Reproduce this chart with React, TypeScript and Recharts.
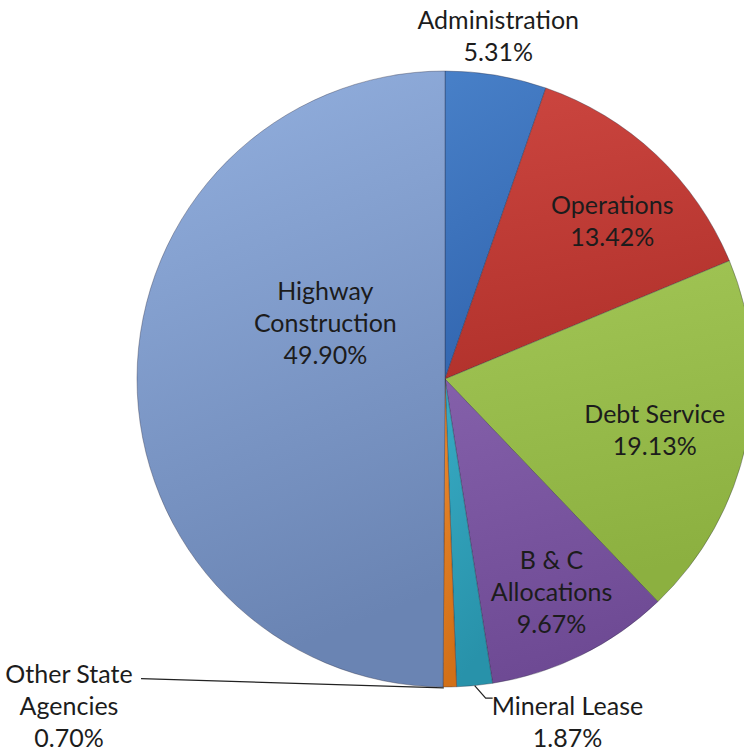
import { PieChart, Pie, Cell } from 'recharts';

const categories = [
  'Administration',
  'Operations',
  'Debt Service',
  'B & C Allocations',
  'Mineral Lease',
  'Other State Agencies',
  'Highway Construction',
];
const shares = [5.31, 13.42, 19.13, 9.67, 1.87, 0.7, 49.9];
const labelLines = [
  ['Administration'],
  ['Operations'],
  ['Debt Service'],
  ['B & C', 'Allocations'],
  ['Mineral Lease'],
  ['Other State', 'Agencies'],
  ['Highway', 'Construction'],
];

const data = categories.map((name, i) => ({ name, value: shares[i], lines: labelLines[i] }));

// [light, dark] per slice
const fills: [string, string][] = [
  ['#4880c8', '#3266b0'],
  ['#cc4640', '#b2322c'],
  ['#a2c656', '#8cb040'],
  ['#8460aa', '#6e4a94'],
  ['#38abc4', '#2892aa'],
  ['#ec8a2e', '#d27018'],
  ['#93b0df', '#6a84b3'],
];

// label placement: angle clockwise from 12 o'clock, distance in radii
const placement: Record<string, { angle: number; dist: number }> = {
  'Administration': { angle: 8.8, dist: 1.13 },
  'Operations': { angle: 46.4, dist: 0.75 },
  'Debt Service': { angle: 103.4, dist: 0.7 },
  'B & C Allocations': { angle: 153.3, dist: 0.77 },
  'Mineral Lease': { angle: 160.3, dist: 1.18 },
  'Other State Agencies': { angle: 229.1, dist: 1.615 },
  'Highway Construction': { angle: 295.4, dist: 0.43 },
};

const FONT = 25;
const LINE_H = 32;
const CX = 445;
const CY = 379;
const R = 308;

function polar(angle: number, dist: number) {
  const a = (angle * Math.PI) / 180;
  return { x: CX + Math.sin(a) * dist, y: CY - Math.cos(a) * dist };
}

function renderLabel(props: any) {
  const { payload, midAngle } = props;
  const name = payload.name as string;
  const p = placement[name];
  const pos = polar(p.angle, p.dist * R);
  const lines: string[] = [...payload.lines, `${payload.value.toFixed(2)}%`];
  const top = pos.y - ((lines.length - 1) * LINE_H) / 2;
  // recharts midAngle: counter-clockwise from 3 o'clock
  const clock = 90 - midAngle;
  const edge = polar(clock, R);
  let leader = null;
  if (name === 'Other State Agencies') {
    leader = (
      <polyline
        points={`${pos.x + 72},${top + 6} ${edge.x - 6},${edge.y + 1}`}
        fill="none"
        stroke="#222"
        strokeWidth={1.2}
      />
    );
  } else if (name === 'Mineral Lease') {
    leader = (
      <polyline
        points={`${edge.x},${edge.y} ${edge.x + 11},${top - 7} ${edge.x + 18},${top - 7}`}
        fill="none"
        stroke="#222"
        strokeWidth={1.2}
      />
    );
  }
  return (
    <g key={name}>
      {leader}
      <text
        x={pos.x}
        y={top}
        textAnchor="middle"
        dominantBaseline="central"
        fontFamily="Lato, 'Open Sans', sans-serif"
        fontSize={FONT}
        fill="#1c1c1c"
      >
        {lines.map((l, i) => (
          <tspan key={i} x={pos.x} dy={i === 0 ? 0 : LINE_H}>
            {l}
          </tspan>
        ))}
      </text>
    </g>
  );
}

export default function App() {
  return (
    <div style={{ position: 'absolute', left: 0, top: 0, width: 744, height: 752, background: '#fff', overflow: 'hidden' }}>
      <PieChart width={744} height={752} margin={{ top: 0, right: 0, bottom: 0, left: 0 }} style={{ overflow: 'visible' }}>
        <defs>
          {fills.map((f, i) => (
            <linearGradient key={i} id={`g${i}`} x1="0" y1="0" x2="0.2" y2="1">
              <stop offset="0%" stopColor={f[0]} />
              <stop offset="100%" stopColor={f[1]} />
            </linearGradient>
          ))}
        </defs>
        <Pie
          data={data}
          dataKey="value"
          nameKey="name"
          cx={CX}
          cy={CY}
          outerRadius={R}
          startAngle={90}
          endAngle={-270}
          stroke="rgba(40,40,60,0.35)"
          strokeWidth={1}
          label={renderLabel}
          labelLine={false}
          isAnimationActive={false}
        >
          {data.map((d, i) => (
            <Cell key={d.name} fill={`url(#g${i})`} />
          ))}
        </Pie>
      </PieChart>
    </div>
  );
}
